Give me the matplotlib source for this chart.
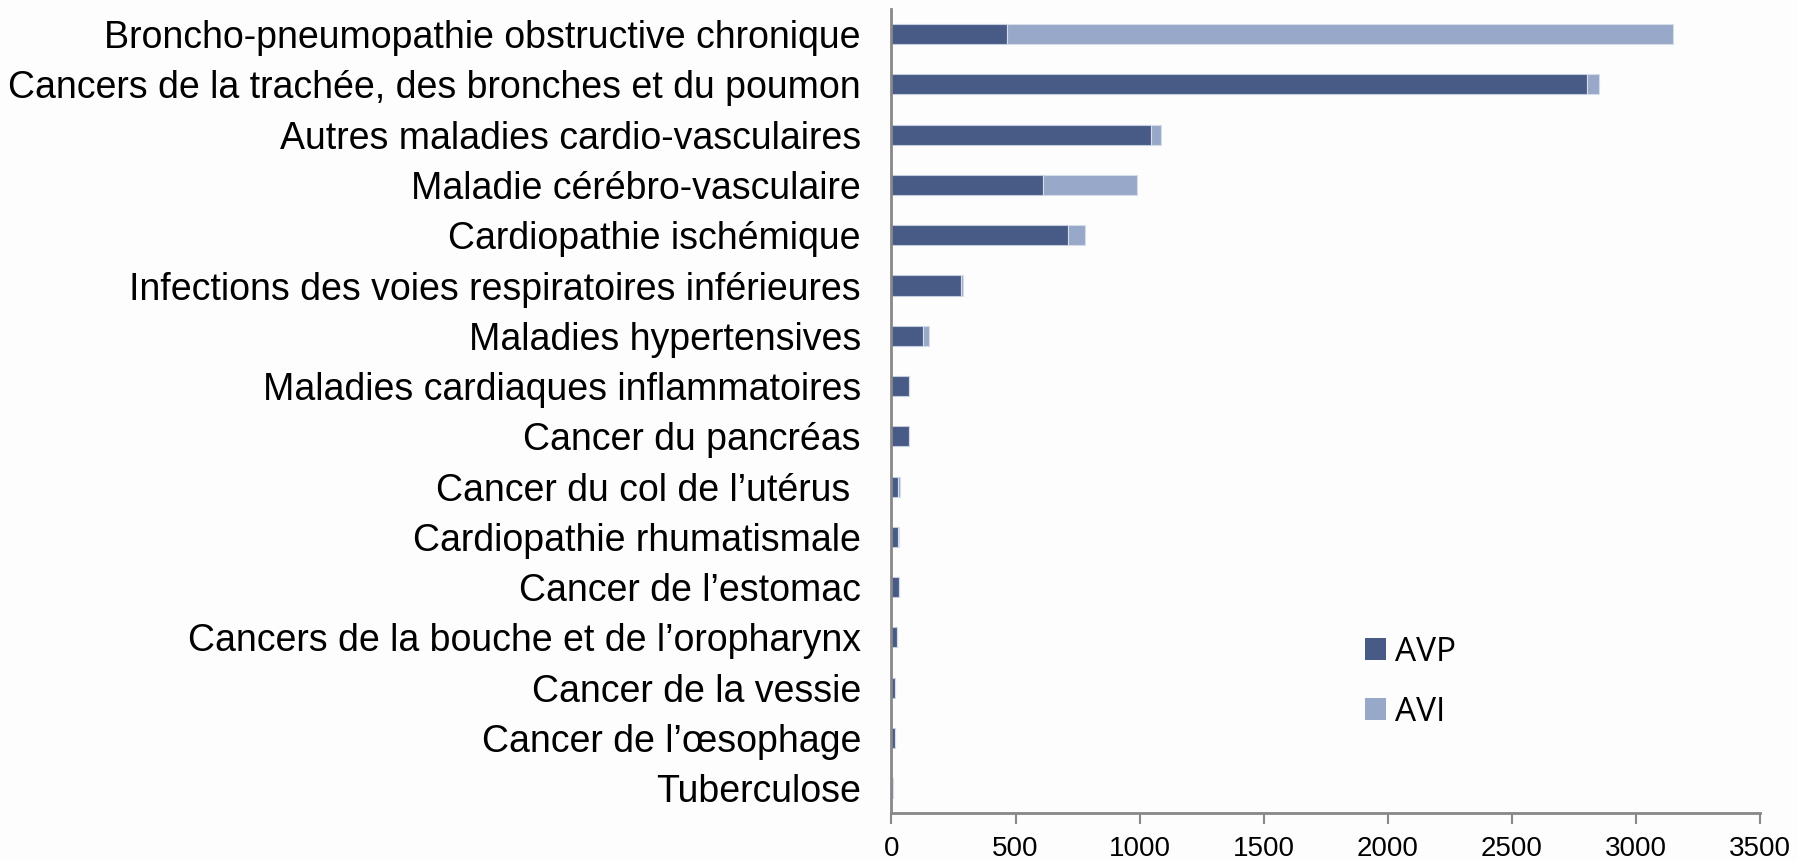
import matplotlib
matplotlib.use("Agg")
import matplotlib.pyplot as plt
from matplotlib.patches import Patch

categories = [
    "Broncho-pneumopathie obstructive chronique",
    "Cancers de la trachée, des bronches et du poumon",
    "Autres maladies cardio-vasculaires",
    "Maladie cérébro-vasculaire",
    "Cardiopathie ischémique",
    "Infections des voies respiratoires inférieures",
    "Maladies hypertensives",
    "Maladies cardiaques inflammatoires",
    "Cancer du pancréas",
    "Cancer du col de l’utérus ",
    "Cardiopathie rhumatismale",
    "Cancer de l’estomac",
    "Cancers de la bouche et de l’oropharynx",
    "Cancer de la vessie",
    "Cancer de l’œsophage",
    "Tuberculose",
]
avp = [465, 2802, 1045, 609, 711, 281, 128, 70, 70, 26, 26, 30, 21, 15, 15, 0]
avi = [2685, 47, 40, 381, 68, 7, 22, 2, 2, 8, 4, 2, 1, 1, 1, 6]
xticks = [0, 500, 1000, 1500, 2000, 2500, 3000, 3500]

dark = "#485B86"
light = "#98A8C8"

fig = plt.figure(figsize=(17.98, 8.61), dpi=100)
fig.patch.set_facecolor("#FDFDFD")
ax = fig.add_axes([0.4958, 0.0554, 0.9790 - 0.4958, 0.9895 - 0.0554])
ax.set_facecolor("#FDFDFD")

y = list(range(len(categories)))
ax.barh(y, avp, height=0.4, color=dark, edgecolor="#C5CCDD", linewidth=0.8, label="AVP")
ax.barh(y, avi, left=avp, height=0.4, color=light, edgecolor="#D5DCEA", linewidth=0.8, label="AVI")

ax.set_ylim(len(categories) - 0.5, -0.5)
ax.set_xlim(0, 3500)
ax.set_yticks(y)
ax.set_yticklabels(categories, fontsize=27, family="Liberation Sans")
ax.set_xticks(xticks)
ax.set_xticklabels([str(t) for t in xticks], fontsize=20, family="Liberation Sans")
ax.tick_params(axis="y", length=0, pad=22)
ax.tick_params(axis="x", length=8, width=1.5, color="#888888", pad=8)

for s in ["top", "right"]:
    ax.spines[s].set_visible(False)
for s in ["left", "bottom"]:
    ax.spines[s].set_color("#888888")
    ax.spines[s].set_linewidth(2)

handles = [Patch(facecolor=dark, label="AVP"), Patch(facecolor=light, label="AVI")]
fig.legend(handles=handles, loc="upper left", bbox_to_anchor=(1365 / 1798, 1 - 636 / 861),
           bbox_transform=fig.transFigure, borderaxespad=0, borderpad=0,
           frameon=False, prop={"family": "Open Sans", "size": 24},
           handlelength=0.62, handleheight=0.62, handletextpad=0.29, labelspacing=0.81)

fig.savefig("out.png", dpi=100, facecolor=fig.get_facecolor())
